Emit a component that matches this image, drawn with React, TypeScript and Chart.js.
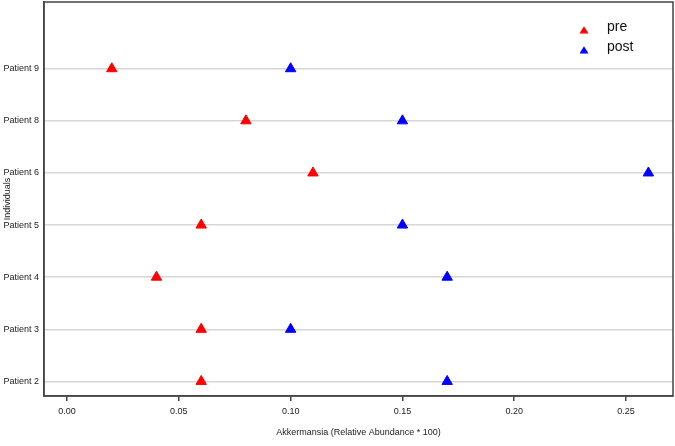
import React, { useEffect, useRef } from 'react';
import { Chart, registerables } from 'chart.js';

Chart.register(...registerables);

const patients = ['Patient 2', 'Patient 3', 'Patient 4', 'Patient 5', 'Patient 6', 'Patient 8', 'Patient 9'];
const preValues = [0.06, 0.06, 0.04, 0.06, 0.11, 0.08, 0.02];
const postValues = [0.17, 0.10, 0.17, 0.15, 0.26, 0.15, 0.10];
const xTickValues = [0, 0.05, 0.1, 0.15, 0.2, 0.25];
const seriesNames = ['pre', 'post'];
const seriesColors = ['#ff0000', '#0000ff'];

const FONT = '"Liberation Sans", Arial, sans-serif';

// legend marker image: small triangle placed left/low inside a wider canvas
function legendMarker(color: string): HTMLCanvasElement {
  const c = document.createElement('canvas');
  c.width = 32;
  c.height = 24;
  const g = c.getContext('2d')!;
  g.fillStyle = color;
  g.beginPath();
  g.moveTo(7, 11.5);
  g.lineTo(11.6, 18.8);
  g.lineTo(2.4, 18.8);
  g.closePath();
  g.fill();
  return c;
}

const framePlugin = {
  id: 'frame',
  beforeDatasetsDraw(chart: any) {
    const { ctx, chartArea } = chart;
    ctx.save();
    ctx.strokeStyle = '#444444';
    ctx.lineWidth = 1.5;
    ctx.strokeRect(chartArea.left, chartArea.top, chartArea.right - chartArea.left, chartArea.bottom - chartArea.top);
    ctx.restore();
  },
};

const legendMover = {
  id: 'legendMover',
  afterLayout(chart: any) {
    const l = chart.legend;
    if (!l) return;
    const w = l.width;
    const h = l.height;
    l.left = 580;
    l.top = 13.7;
    l.right = l.left + w;
    l.bottom = l.top + h;
  },
};

const zeroPad = (scale: any) => {
  scale.paddingTop = 0;
  scale.paddingBottom = 0;
  scale.paddingLeft = 0;
  scale.paddingRight = 0;
};

export default function App() {
  const ref = useRef<HTMLCanvasElement | null>(null);

  useEffect(() => {
    document.body.style.margin = '0';
    if (!ref.current) return;
    const markers = seriesColors.map((c) => legendMarker(c));
    const toPoints = (vals: number[]) => vals.map((v, i) => ({ x: v, y: i + 1 }));
    const chart = new Chart(ref.current, {
      type: 'scatter',
      data: {
        datasets: [preValues, postValues].map((vals, k) => ({
          label: seriesNames[k],
          data: toPoints(vals),
          pointStyle: 'triangle',
          pointRadius: 6,
          pointHoverRadius: 6,
          backgroundColor: seriesColors[k],
          borderColor: seriesColors[k],
          borderWidth: 1,
        })),
      },
      options: {
        responsive: false,
        animation: false,
        layout: { autoPadding: false, padding: { top: 2, right: 2, left: 0, bottom: 0 } },
        font: { family: FONT },
        plugins: {
          tooltip: { enabled: false },
          legend: {
            display: true,
            position: 'chartArea' as any,
            align: 'start',
            labels: {
              usePointStyle: true,
              boxWidth: 14,
              boxHeight: 14,
              padding: 6,
              color: '#111',
              font: { family: FONT, size: 14 },
              generateLabels: (chart: any) => {
                const items = (Chart.defaults.plugins.legend.labels as any).generateLabels(chart);
                return items.map((it: any, i: number) => ({ ...it, pointStyle: markers[i] }));
              },
            },
          },
        },
        scales: {
          x: {
            type: 'linear',
            min: -0.0103,
            max: 0.271,
            afterBuildTicks: (scale: any) => {
              scale.ticks = xTickValues.map((v) => ({ value: v }));
            },
            afterFit: (scale: any) => {
              scale.height = 50;
              zeroPad(scale);
            },
            ticks: {
              color: '#222',
              font: { family: FONT, size: 9 },
              padding: 5,
              maxRotation: 0,
              callback: (v: any) => Number(v).toFixed(2),
            },
            grid: {
              display: true,
              drawOnChartArea: false,
              drawTicks: true,
              tickLength: 5,
              color: '#444',
              tickColor: '#444',
              lineWidth: 1.5,
            },
            border: { display: true, color: '#444', width: 1.5 },
            title: {
              display: true,
              text: 'Akkermansia (Relative Abundance * 100)',
              color: '#222',
              font: { family: FONT, size: 9 },
              padding: { top: 0, bottom: 7.6 },
            },
          },
          y: {
            type: 'linear',
            min: 0.72,
            max: 8.28,
            afterBuildTicks: (scale: any) => {
              scale.ticks = patients.map((_, i) => ({ value: i + 1 }));
            },
            afterFit: (scale: any) => {
              scale.width = 44;
              zeroPad(scale);
            },
            ticks: {
              color: '#222',
              font: { family: FONT, size: 9 },
              padding: 5,
              callback: (v: any) => patients[Math.round(Number(v)) - 1] ?? '',
            },
            grid: {
              display: true,
              drawOnChartArea: true,
              drawTicks: false,
              color: '#d6d6d6',
              lineWidth: 1.5,
            },
            border: { display: true, color: '#444', width: 1.5 },
            title: {
              display: true,
              text: 'Individuals',
              color: '#222',
              font: { family: FONT, size: 9 },
              padding: { top: 2.6, bottom: 0 },
            },
          },
        },
      },
      plugins: [framePlugin, legendMover],
    } as any);
    return () => chart.destroy();
  }, []);

  return (
    <div style={{ width: 675, height: 446 }}>
      <canvas ref={ref} width={675} height={446} style={{ display: 'block' }} />
    </div>
  );
}
